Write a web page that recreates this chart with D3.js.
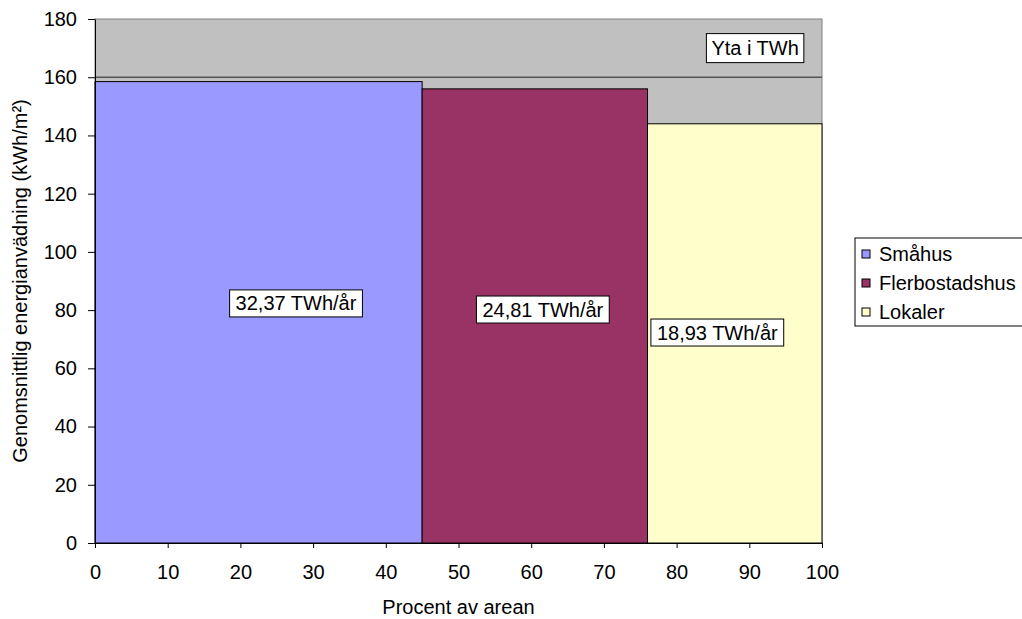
<!DOCTYPE html>
<html>
<head>
<meta charset="utf-8">
<script src="https://cdn.jsdelivr.net/npm/d3@7"></script>
<style>
  body { margin: 0; background: #fff; }
  text { font-family: "Liberation Sans", Arial, sans-serif; fill: #000; }
</style>
</head>
<body>
<div id="chart"></div>
<script>
// data
var categories = ["Småhus", "Flerbostadshus", "Lokaler"];
var areaShare = [45, 31, 24];          // percent of total area
var energyUse = [158.5, 156, 144];     // kWh/m2
var twhLabels = ["32,37 TWh/år", "24,81 TWh/år", "18,93 TWh/år"];
var colors = ["#9999ff", "#993366", "#ffffcc"];
var refLevel = 160;
var xTicks = [0, 10, 20, 30, 40, 50, 60, 70, 80, 90, 100];
var yTicks = [0, 20, 40, 60, 80, 100, 120, 140, 160, 180];

var width = 1022, height = 619;
var margin = {top: 19, left: 95};
var w = 822 - margin.left, h = 543 - margin.top;
var fs = "20px";

var svg = d3.select("#chart").append("svg")
    .attr("width", width)
    .attr("height", height);

var g = svg.append("g")
    .attr("transform", "translate(" + margin.left + "," + margin.top + ")");

var x = d3.scaleLinear().domain([0, 100]).range([0, w]);
var y = d3.scaleLinear().domain([0, 180]).range([h, 0]);

// cumulative start of each block
var starts = [];
var acc = 0;
areaShare.forEach(function(a) { starts.push(acc); acc += a; });

var data = categories.map(function(c, i) {
  return {name: c, x0: starts[i], x1: starts[i] + areaShare[i], v: energyUse[i], label: twhLabels[i], color: colors[i]};
});

// plot background
g.append("rect")
    .attr("x", 0).attr("y", 0)
    .attr("width", w).attr("height", h)
    .attr("fill", "#c0c0c0")
    .attr("stroke", "#808080");

// reference line at 160
g.append("line")
    .attr("x1", 0).attr("x2", w)
    .attr("y1", y(refLevel)).attr("y2", y(refLevel))
    .attr("stroke", "#555").attr("stroke-width", 1.5);

// blocks
g.selectAll(".bar")
    .data(data)
  .enter().append("rect")
    .attr("class", "bar")
    .attr("x", function(d) { return x(d.x0); })
    .attr("width", function(d) { return x(d.x1) - x(d.x0); })
    .attr("y", function(d) { return y(d.v); })
    .attr("height", function(d) { return h - y(d.v); })
    .attr("fill", function(d) { return d.color; })
    .attr("stroke", "#000").attr("stroke-width", 1);

// axes
var yAxis = g.append("g")
    .call(d3.axisLeft(y).tickValues(yTicks).tickSize(7).tickSizeOuter(0).tickPadding(11));
var xAxis = g.append("g")
    .attr("transform", "translate(0," + h + ")")
    .call(d3.axisBottom(x).tickValues(xTicks).tickSize(5).tickSizeOuter(0).tickPadding(17));
[xAxis, yAxis].forEach(function(a) {
  a.selectAll("path, line").attr("stroke", "#000");
  a.selectAll("text").style("font-size", fs).attr("fill", "#000");
});

// value labels in boxes
function boxLabel(parent, cx, cy, txt, padX, boxH) {
  var lg = parent.append("g");
  var r = lg.append("rect");
  var t = lg.append("text")
      .attr("x", cx).attr("y", cy)
      .attr("text-anchor", "middle")
      .attr("dominant-baseline", "central")
      .style("font-size", fs)
      .text(txt);
  var tw = t.node().getComputedTextLength();
  r.attr("x", cx - tw / 2 - padX)
      .attr("y", cy - boxH / 2)
      .attr("width", tw + padX * 2)
      .attr("height", boxH)
      .attr("fill", "#fff").attr("stroke", "#000");
}

var labelAt = [[27.65, 82.3], [61.6, 80.2], [85.6, 72.3]];
data.forEach(function(d, i) {
  boxLabel(g, x(labelAt[i][0]), y(labelAt[i][1]), d.label, 6, 27);
});
boxLabel(g, x(90.8), y(170.0), "Yta i TWh", 5, 29);

// axis titles
svg.append("text")
    .attr("x", margin.left + x(50)).attr("y", 614)
    .attr("text-anchor", "middle")
    .style("font-size", fs)
    .text("Procent av arean");

svg.append("text")
    .attr("transform", "translate(20," + (margin.top + h / 2) + ") rotate(-90)")
    .attr("text-anchor", "middle")
    .attr("dominant-baseline", "central")
    .style("font-size", fs)
    .text("Genomsnittlig energianvädning (kWh/m²)");

// legend
var legend = svg.append("g").attr("transform", "translate(855,238)");
legend.append("rect")
    .attr("width", 180).attr("height", 88)
    .attr("fill", "#fff").attr("stroke", "#000");
data.forEach(function(d, i) {
  var row = legend.append("g").attr("transform", "translate(0," + (16 + i * 29) + ")");
  row.append("rect")
      .attr("x", 7).attr("y", -4).attr("width", 8).attr("height", 8)
      .attr("fill", d.color).attr("stroke", "#000");
  row.append("text")
      .attr("x", 24).attr("y", 0)
      .attr("dominant-baseline", "central")
      .style("font-size", fs)
      .text(d.name);
});
</script>
</body>
</html>
